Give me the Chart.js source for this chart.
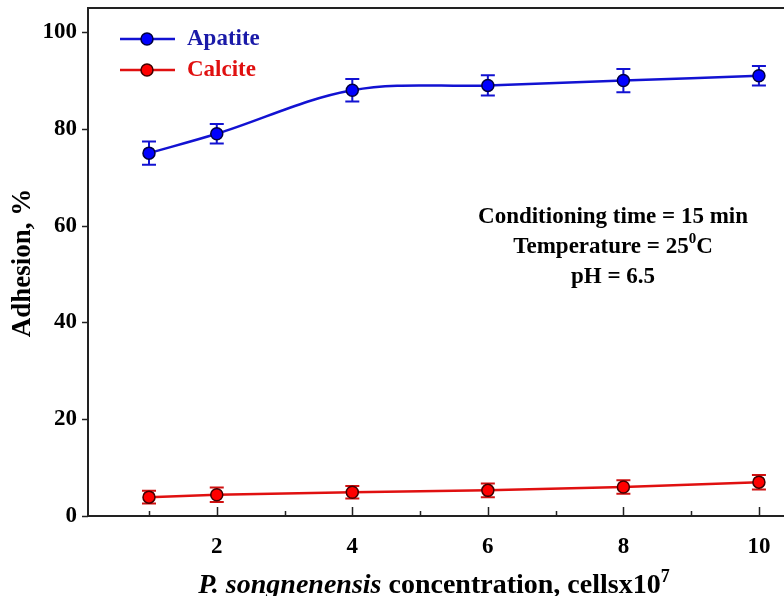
<!DOCTYPE html>
<html>
<head>
<meta charset="utf-8">
<script src="https://cdn.jsdelivr.net/npm/chart.js@4/dist/chart.umd.min.js"></script>
<style>
  html, body { margin: 0; padding: 0; background: #fff; }
  #wrap { width: 784px; height: 596px; }
</style>
</head>
<body>
<div id="wrap"><canvas id="c" width="784" height="596"></canvas></div>
<script>
// cell concentration (x10^7 cells) and adhesion (%)
const concentration = [1, 2, 4, 6, 8, 10];
const apatite = [75, 79, 88, 89, 90, 91];
const apatiteErr = [2.4, 2.0, 2.3, 2.1, 2.4, 2.0];
const calcite = [3.9, 4.4, 4.9, 5.3, 6.0, 7.0];
const calciteErr = [1.3, 1.5, 1.3, 1.4, 1.4, 1.5];

const yTicks = [0, 20, 40, 60, 80, 100];
const xTicks = [2, 4, 6, 8, 10];
const xMinorTicks = [1, 3, 5, 7, 9];

const conditions = ['Conditioning time = 15 min', 'Temperature = 25', 'pH = 6.5'];

const SERIF = '"Liberation Serif", "Times New Roman", serif';
const BLUE = '#0000ff';
const BLUE_LINE = '#1212d2';
const RED = '#ff0000';
const RED_LINE = '#e01010';
const MARKER_R = 6;

function toPoints(xs, ys) {
  return xs.map((x, i) => ({ x: x, y: ys[i] }));
}

// error bars, axis ticks, frame, legend and text labels
const decorations = {
  id: 'decorations',
  beforeDatasetsDraw(chart) {
    const ctx = chart.ctx;
    const xs = chart.scales.x;
    const ys = chart.scales.y;
    const sets = [
      { vals: apatite, err: apatiteErr, color: BLUE_LINE },
      { vals: calcite, err: calciteErr, color: '#d01010' },
    ];
    ctx.save();
    ctx.lineWidth = 2;
    sets.forEach(s => {
      ctx.strokeStyle = s.color;
      concentration.forEach((c, i) => {
        const px = xs.getPixelForValue(c);
        const top = ys.getPixelForValue(s.vals[i] + s.err[i]);
        const bot = ys.getPixelForValue(s.vals[i] - s.err[i]);
        ctx.beginPath();
        ctx.moveTo(px, top); ctx.lineTo(px, bot);
        ctx.moveTo(px - 7, top); ctx.lineTo(px + 7, top);
        ctx.moveTo(px - 7, bot); ctx.lineTo(px + 7, bot);
        ctx.stroke();
      });
    });
    ctx.restore();
  },
  afterDraw(chart) {
    const ctx = chart.ctx;
    const a = chart.chartArea;
    const xs = chart.scales.x;
    const ys = chart.scales.y;
    ctx.save();

    // top frame line
    ctx.strokeStyle = '#222';
    ctx.lineWidth = 2;
    ctx.beginPath();
    ctx.moveTo(a.left, a.top); ctx.lineTo(a.right, a.top);
    ctx.stroke();

    // x ticks point inward, y ticks point outward
    ctx.lineWidth = 1.5;
    ctx.beginPath();
    xTicks.forEach(v => {
      const px = Math.round(xs.getPixelForValue(v)) + 0.5;
      ctx.moveTo(px, a.bottom); ctx.lineTo(px, a.bottom - 9);
    });
    xMinorTicks.forEach(v => {
      const px = Math.round(xs.getPixelForValue(v)) + 0.5;
      ctx.moveTo(px, a.bottom); ctx.lineTo(px, a.bottom - 5);
    });
    yTicks.forEach(v => {
      const py = Math.round(ys.getPixelForValue(v)) + 0.5;
      ctx.moveTo(a.left, py); ctx.lineTo(a.left - 6, py);
    });
    ctx.stroke();

    // legend
    const legend = [
      { label: 'Apatite', line: BLUE_LINE, fill: BLUE, edge: '#000040', text: '#1a1aa8', y: 39 },
      { label: 'Calcite', line: RED_LINE, fill: RED, edge: '#400000', text: '#e01010', y: 70 },
    ];
    legend.forEach(l => {
      ctx.strokeStyle = l.line;
      ctx.lineWidth = 2.5;
      ctx.beginPath();
      ctx.moveTo(120, l.y); ctx.lineTo(175, l.y);
      ctx.stroke();
      ctx.beginPath();
      ctx.arc(147, l.y, MARKER_R, 0, Math.PI * 2);
      ctx.fillStyle = l.fill;
      ctx.fill();
      ctx.strokeStyle = l.edge;
      ctx.lineWidth = 1.5;
      ctx.stroke();
      ctx.fillStyle = l.text;
      ctx.font = 'bold 23px ' + SERIF;
      ctx.textAlign = 'left';
      ctx.textBaseline = 'middle';
      ctx.fillText(l.label, 187, l.y);
    });

    // experimental conditions
    const big = 'bold 23px ' + SERIF;
    const small = 'bold 15px ' + SERIF;
    ctx.fillStyle = '#000';
    ctx.font = big;
    ctx.textBaseline = 'middle';
    ctx.textAlign = 'center';
    const cx = 613;
    ctx.fillText(conditions[0], cx, 217);
    // temperature line with superscript degree
    const tMain = conditions[1];
    const w1 = ctx.measureText(tMain).width;
    const w3 = ctx.measureText('C').width;
    ctx.font = small;
    const w2 = ctx.measureText('0').width;
    let sx = cx - (w1 + w2 + w3) / 2;
    ctx.textAlign = 'left';
    ctx.font = big;
    ctx.fillText(tMain, sx, 247);
    ctx.font = small;
    ctx.fillText('0', sx + w1, 239);
    ctx.font = big;
    ctx.fillText('C', sx + w1 + w2, 247);
    ctx.textAlign = 'center';
    ctx.fillText(conditions[2], cx, 277);

    // y axis title
    ctx.save();
    ctx.translate(23, 263);
    ctx.rotate(-Math.PI / 2);
    ctx.font = 'bold 27px ' + SERIF;
    ctx.textAlign = 'center';
    ctx.textBaseline = 'middle';
    ctx.fillText('Adhesion, %', 0, 0);
    ctx.restore();

    // x axis title: italic species name, plain text, superscript exponent
    const parts = [
      { t: 'P. songnenensis', f: 'italic bold 28px ' + SERIF, dy: 0 },
      { t: ' concentration, cellsx10', f: 'bold 28px ' + SERIF, dy: 0 },
      { t: '7', f: 'bold 18px ' + SERIF, dy: -11 },
    ];
    let total = 0;
    parts.forEach(p => { ctx.font = p.f; p.w = ctx.measureText(p.t).width; total += p.w; });
    let px = 434 - total / 2;
    ctx.textAlign = 'left';
    ctx.textBaseline = 'alphabetic';
    parts.forEach(p => {
      ctx.font = p.f;
      ctx.fillText(p.t, px, 593 + p.dy);
      px += p.w;
    });

    ctx.restore();
  }
};

new Chart(document.getElementById('c'), {
  type: 'line',
  data: {
    datasets: [
      {
        label: 'Apatite',
        data: toPoints(concentration, apatite),
        borderColor: BLUE_LINE,
        borderWidth: 2.5,
        tension: 0.35,
        pointRadius: MARKER_R,
        pointBackgroundColor: BLUE,
        pointBorderColor: '#000040',
        pointBorderWidth: 1.5,
      },
      {
        label: 'Calcite',
        data: toPoints(concentration, calcite),
        borderColor: RED_LINE,
        borderWidth: 2.5,
        tension: 0,
        pointRadius: MARKER_R,
        pointBackgroundColor: RED,
        pointBorderColor: '#400000',
        pointBorderWidth: 1.5,
      },
    ],
  },
  options: {
    responsive: false,
    animation: false,
    layout: { autoPadding: false, padding: { top: 8, right: 0, left: 0, bottom: 0 } },
    plugins: {
      legend: { display: false },
      tooltip: { enabled: false },
    },
    scales: {
      x: {
        type: 'linear',
        min: 0.1,
        max: 10.37,
        afterBuildTicks: (scale) => { scale.ticks = xTicks.map(v => ({ value: v })); },
        afterFit: (scale) => {
          scale.height = 80;
          scale.paddingLeft = 0;
          scale.paddingRight = 0;
        },
        grid: { display: false },
        border: { display: true, color: '#222', width: 2 },
        ticks: {
          color: '#000',
          padding: 9,
          maxRotation: 0,
          font: { family: SERIF, size: 23, weight: 'bold' },
        },
      },
      y: {
        min: 0,
        max: 105,
        afterBuildTicks: (scale) => { scale.ticks = yTicks.map(v => ({ value: v })); },
        afterFit: (scale) => {
          scale.width = 88;
          scale.paddingTop = 0;
          scale.paddingBottom = 0;
        },
        grid: { display: false },
        border: { display: true, color: '#222', width: 2 },
        ticks: {
          color: '#000',
          padding: 3,
          font: { family: SERIF, size: 23, weight: 'bold' },
        },
      },
    },
  },
  plugins: [decorations],
});
</script>
</body>
</html>
